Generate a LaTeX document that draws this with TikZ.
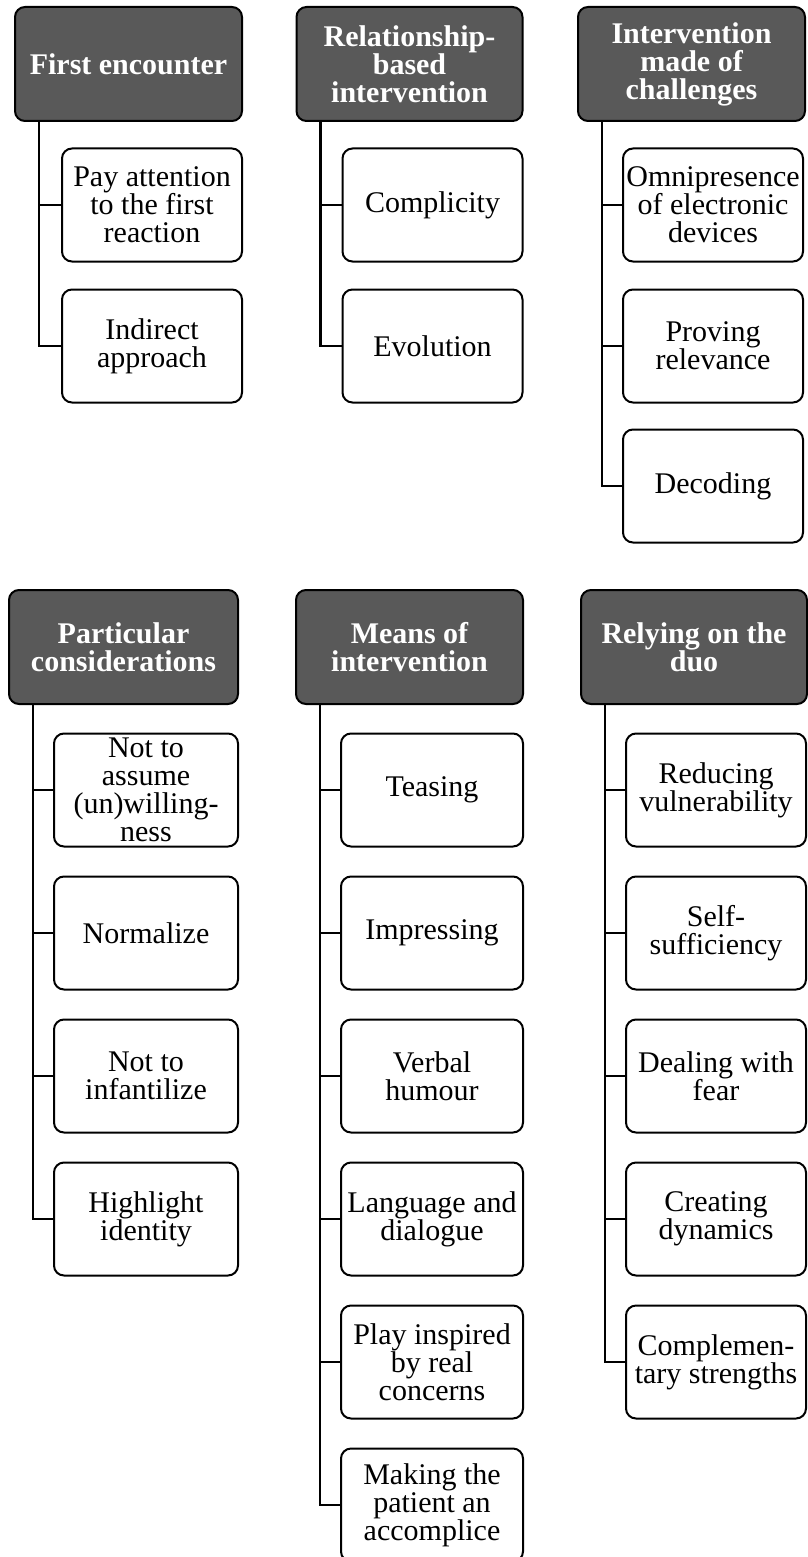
\documentclass[tikz,border=0pt]{standalone}
\usepackage{fontspec}
\setmainfont{Liberation Serif}
\definecolor{hdrgray}{HTML}{595959}
\tikzset{
 hdr/.style={draw=black, line width=2pt, fill=hdrgray, rounded corners=10pt, minimum height=114pt, inner sep=0pt},
 cbox/.style={draw=black, line width=2pt, fill=white, rounded corners=10pt, minimum height=113pt, inner sep=0pt},
 htxt/.style={text=white, font=\fontsize{30}{28}\selectfont\bfseries, align=center, inner sep=0pt},
 ctxt/.style={text=black, font=\fontsize{30}{28}\selectfont, align=center, inner sep=0pt},
 conn/.style={line width=2.2pt}
}
\newcommand{\hbx}[5]{\node[hdr, minimum width=#4pt] (#1) at (#2pt,-#3pt) {}; \node[htxt] (#1t) at (#1) {#5};}
\newcommand{\cbx}[5]{\node[cbox, minimum width=#4pt] (#1) at (#2pt,-#3pt) {}; \node[ctxt] (#1t) at (#1) {#5};}
\begin{document}
\begin{tikzpicture}
\useasboundingbox (0pt,0pt) rectangle (807pt,-1557pt);
% top row
\hbx{h1}{128.5}{64}{227}{First encounter}
\hbx{h2}{409.5}{64}{226}{Relationship-\\based\\intervention}
\hbx{h3}{691.5}{64}{227}{Intervention\\made of\\challenges}
\cbx{a1}{152}{205}{180}{Pay attention\\to the first\\reaction}
\cbx{a2}{152}{346}{180}{Indirect\\approach}
\cbx{b1}{432.5}{205}{180}{Complicity}
\cbx{b2}{432.5}{346}{180}{Evolution}
\cbx{c1}{713}{205}{180}{Omnipresence\\of electronic\\devices}
\cbx{c2}{713}{346}{180}{Proving\\relevance}
\cbx{c3}{713}{486}{180}{Decoding}
% bottom row
\hbx{h4}{123.5}{647}{229}{Particular\\considerations}
\hbx{h5}{409.5}{647}{227}{Means of\\intervention}
\hbx{h6}{694}{647}{226}{Relying on the\\duo}
\cbx{d1}{146}{790}{184}{Not to\\assume\\(un)willing-\\ness}
\cbx{d2}{146}{933}{184}{Normalize}
\cbx{d3}{146}{1076}{184}{Not to\\infantilize}
\cbx{d4}{146}{1219}{184}{Highlight\\identity}
\cbx{e1}{432}{790}{182}{Teasing}
\cbx{e2}{432}{933}{182}{Impressing}
\cbx{e3}{432}{1076}{182}{Verbal\\humour}
\cbx{e4}{432}{1219}{182}{Language and\\dialogue}
\cbx{e5}{432}{1362}{182}{Play inspired\\by real\\concerns}
\cbx{e6}{432}{1505}{182}{Making the\\patient an\\accomplice}
\cbx{f1}{716}{790}{180}{Reducing\\vulnerability}
\cbx{f2}{716}{933}{180}{Self-\\sufficiency}
\cbx{f3}{716}{1076}{180}{Dealing with\\fear}
\cbx{f4}{716}{1219}{180}{Creating\\dynamics}
\cbx{f5}{716}{1362}{180}{Complemen-\\tary strengths}
% connectors
\foreach \h/\c in {h1/a1,h1/a2,h2/b1,h2/b2,h3/c1,h3/c2,h3/c3,h4/d1,h4/d2,h4/d3,h4/d4,h5/e1,h5/e2,h5/e3,h5/e4,h5/e5,h5/e6,h6/f1,h6/f2,h6/f3,h6/f4,h6/f5}
  \draw[conn] ([xshift=25pt]\h.south west) |- (\c.west);
\end{tikzpicture}
\end{document}
